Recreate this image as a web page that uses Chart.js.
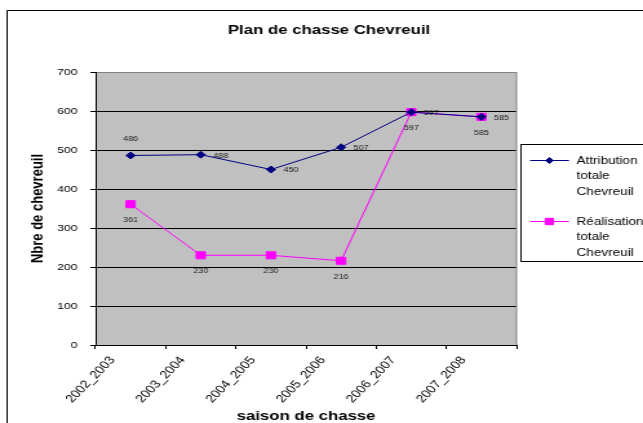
<!DOCTYPE html>
<html>
<head>
<meta charset="utf-8">
<script src="https://cdn.jsdelivr.net/npm/chart.js@4/dist/chart.umd.min.js"></script>
<style>
    body { margin: 0; background: #fff; overflow: hidden; }
    /* the picture is wider than its text would suggest: draw narrow, show stretched */
    #wrap { width: 498px; height: 423px; transform: scaleX(1.2912); transform-origin: 0 0; }
</style>
</head>
<body>
<div id="wrap"><canvas id="chasseChart" width="498" height="423"></canvas></div>
<script>
const saisons = ['2002_2003', '2003_2004', '2004_2005', '2005_2006', '2006_2007', '2007_2008']; // categories
const attribution = [486, 488, 450, 507, 597, 585]; // Attribution totale Chevreuil
const realisation = [361, 230, 230, 216, 597, 585]; // Réalisation totale Chevreuil
const yTicks = [0, 100, 200, 300, 400, 500, 600, 700]; // tick labels of the value axis
const serieNames = [['Attribution', 'totale', 'Chevreuil'], ['Réalisation', 'totale', 'Chevreuil']];

const FONT = "'Liberation Sans', Arial, sans-serif";
const NAVY = '#000080';
const PINK = '#FF00FF';

/**
 * Fond gris de la zone de tracé + cadre extérieur
 */
const plotBackground = {
    id: 'plotBackground',
    beforeDraw(chart) {
        const {ctx, chartArea: a} = chart;
        ctx.save();
        ctx.fillStyle = '#C0C0C0';
        ctx.fillRect(a.left, a.top, a.right - a.left, a.bottom - a.top);
        ctx.strokeStyle = '#000';
        ctx.lineWidth = 1;
        ctx.beginPath(); // outer frame, cut by the window on right and bottom
        ctx.moveTo(5.5, 430);
        ctx.lineTo(5.5, 10.5);
        ctx.lineTo(510, 10.5);
        ctx.stroke();
        ctx.restore();
    }
};

/**
 * Valeurs écrites à côté de chaque point
 */
const pointLabels = {
    id: 'pointLabels',
    afterDatasetsDraw(chart) {
        const ctx = chart.ctx;
        ctx.save();
        ctx.font = '7px ' + FONT;
        ctx.fillStyle = '#222';
        ctx.textAlign = 'center';
        ctx.textBaseline = 'middle';
        chart.data.datasets.forEach((ds, i) => {
            chart.getDatasetMeta(i).data.forEach((pt, j) => {
                const pos = ds.labelPos[j];
                let x = pt.x, y = pt.y;
                if (pos === 'above') y -= 16;
                else if (pos === 'below') y += 16;
                else { x += 15.5; y += 1; }
                ctx.fillText(ds.data[j], x, y);
            });
        });
        ctx.restore();
    }
};

/**
 * Titre, bord droit de la zone et légende encadrée
 */
const decorations = {
    id: 'decorations',
    afterDraw(chart) {
        const {ctx, chartArea: a} = chart;
        ctx.save();
        ctx.strokeStyle = '#808080';
        ctx.lineWidth = 1;
        ctx.beginPath();
        ctx.moveTo(a.right, a.top);
        ctx.lineTo(a.right, a.bottom);
        ctx.stroke();

        ctx.fillStyle = '#000';
        ctx.font = 'bold 13px ' + FONT;
        ctx.textAlign = 'center';
        ctx.textBaseline = 'middle';
        ctx.fillText('Plan de chasse Chevreuil', 254.8, 30);

        // legend box
        ctx.strokeStyle = '#000';
        ctx.strokeRect(403.5, 144.5, 120, 117);
        ctx.font = '10.5px ' + FONT;
        ctx.textAlign = 'left';
        const rowTops = [160.5, 221.5];
        chart.data.datasets.forEach((ds, i) => {
            const y = rowTops[i];
            ctx.strokeStyle = ds.borderColor;
            ctx.beginPath();
            ctx.moveTo(410.5, y);
            ctx.lineTo(440.7, y);
            ctx.stroke();
            ctx.fillStyle = ds.backgroundColor;
            Chart.helpers.drawPoint(ctx, {pointStyle: ds.pointStyle, radius: ds.pointRadius - 0.5, rotation: 0, borderWidth: 1}, 425.5, y);
            ctx.fillStyle = '#000';
            serieNames[i].forEach((line, k) => ctx.fillText(line, 446.5, y + 0.5 + k * 15.4));
        });
        ctx.restore();
    }
};

let chart = new Chart(document.getElementById('chasseChart').getContext('2d'), {
    type: 'line',
    data: {
        labels: saisons,
        datasets: [{
            label: serieNames[0].join(' '),
            data: attribution,
            borderColor: NAVY,
            backgroundColor: NAVY,
            borderWidth: 1,
            pointStyle: 'rectRot',
            pointRadius: 3.5,
            pointBorderWidth: 1,
            labelPos: ['above', 'right', 'right', 'right', 'right', 'right']
        }, {
            label: serieNames[1].join(' '),
            data: realisation,
            borderColor: PINK,
            backgroundColor: PINK,
            borderWidth: 1,
            pointStyle: 'rect',
            pointRadius: 5,
            pointBorderWidth: 1,
            labelPos: ['below', 'below', 'below', 'below', 'below', 'below']
        }]
    },
    options: {
        responsive: false,
        devicePixelRatio: 1,
        animation: false,
        layout: {padding: {left: 0, top: 72, right: 98, bottom: 0}},
        plugins: {
            legend: {display: false},
            title: {display: false},
            tooltip: {enabled: false}
        },
        scales: {
            x: {
                offset: true,
                afterFit(scale) { scale.height = 78; },
                grid: {display: true, offset: true, drawOnChartArea: false, drawTicks: true, tickLength: 4, tickColor: '#000'},
                border: {color: '#000', width: 1},
                ticks: {
                    color: '#000',
                    font: {family: FONT, size: 11},
                    minRotation: 52,
                    maxRotation: 52,
                    autoSkip: false,
                    padding: 5,
                    labelOffset: -14
                },
                title: {
                    display: true,
                    text: 'saison de chasse',
                    color: '#000',
                    font: {family: FONT, size: 13, weight: 'bold', lineHeight: 1},
                    padding: 0
                }
            },
            y: {
                min: yTicks[0],
                max: yTicks[yTicks.length - 1],
                afterFit(scale) { scale.width = 74; },
                afterBuildTicks(scale) { scale.ticks = yTicks.map(v => ({value: v})); },
                grid: {
                    color: (c) => c.tick && c.tick.value === 700 ? '#808080' : '#000',
                    tickColor: '#000',
                    tickLength: 4
                },
                border: {color: '#000', width: 1},
                ticks: {
                    color: '#000',
                    font: {family: FONT, size: 9.5},
                    padding: 10
                },
                title: {
                    display: true,
                    text: 'Nbre de chevreuil',
                    color: '#000',
                    font: {family: FONT, size: 13, weight: 'bold'},
                    padding: {top: 22, bottom: 0}
                }
            }
        }
    },
    plugins: [plotBackground, pointLabels, decorations]
});
</script>
</body>
</html>
